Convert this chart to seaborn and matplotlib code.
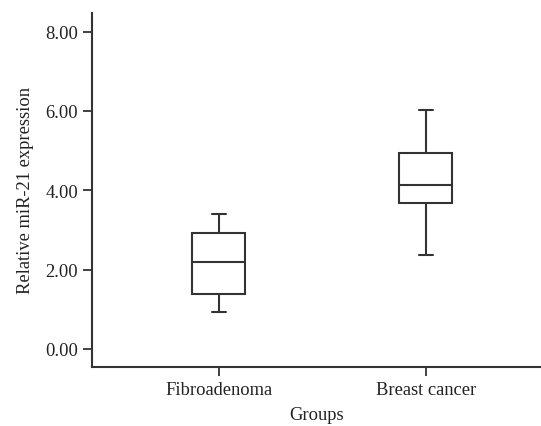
import matplotlib
matplotlib.use("Agg")
import matplotlib.pyplot as plt
import seaborn as sns
import pandas as pd

# Data (five-number summary per group)
groups = ["Fibroadenoma", "Breast cancer"]
fibroadenoma_values = [0.93, 1.38, 2.20, 2.92, 3.40]
breast_cancer_values = [2.37, 3.68, 4.14, 4.95, 6.03]
y_ticks = [0.0, 2.0, 4.0, 6.0, 8.0]
y_tick_labels = ["0.00", "2.00", "4.00", "6.00", "8.00"]

df = pd.DataFrame({
    "Groups": [groups[0]] * len(fibroadenoma_values) + [groups[1]] * len(breast_cancer_values),
    "value": fibroadenoma_values + breast_cancer_values,
})

sns.set_theme(style="ticks")
plt.rcParams["font.family"] = ["Liberation Serif", "DejaVu Serif"]

line_color = "#333333"
fig = plt.figure(figsize=(5.41, 4.27), dpi=100)
ax = fig.add_axes([0.170, 0.139, 0.830, 0.828])

sns.boxplot(
    data=df, x="Groups", y="value", order=groups, ax=ax,
    width=0.256, color="white", linecolor=line_color, linewidth=1.5,
    whis=1.5, showfliers=False, capwidths=0.068,
)

ax.set_xlim(-0.613, 1.556)
ax.set_ylim(-0.45, 8.47)
ax.set_yticks(y_ticks)
ax.set_yticklabels(y_tick_labels)
ax.set_xlabel("Groups", fontsize=13.3, color="#222222", labelpad=6)
ax.set_ylabel("Relative miR-21 expression", fontsize=13.3, color="#222222", labelpad=8)
ax.tick_params(axis="both", labelsize=13.3, colors=line_color, labelcolor="#222222",
               length=6.5, width=1.3, direction="out", pad=3.5)
for side in ["top", "right"]:
    ax.spines[side].set_visible(False)
for side in ["left", "bottom"]:
    ax.spines[side].set_color(line_color)
    ax.spines[side].set_linewidth(1.5)

fig.savefig("out.png", dpi=100)
